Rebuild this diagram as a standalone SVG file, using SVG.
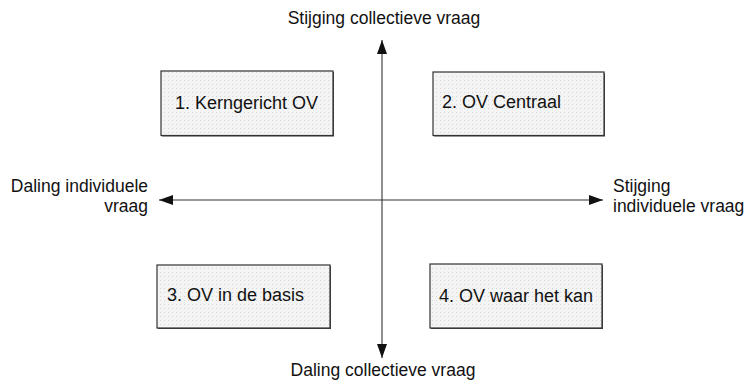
<svg xmlns="http://www.w3.org/2000/svg" width="754" height="383" viewBox="0 0 754 383">
<style>
.box{stroke:#333;stroke-width:1.2}
.shadow{fill:#444}
.bt{font-family:"Liberation Sans",Arial,sans-serif;font-size:18px;fill:#111}
.lb{font-family:"Liberation Sans",Arial,sans-serif;font-size:17.5px;fill:#111}
.ax{stroke:#333;stroke-width:1.1;fill:none}
</style>
<defs>
<pattern id="dots" width="4" height="4" patternUnits="userSpaceOnUse">
<rect width="4" height="4" fill="#f4f4f4"/>
<rect x="0" y="0" width="1" height="1" fill="#d6d6d6"/>
</pattern>
<marker id="ah" viewBox="0 0 14 10" refX="14" refY="5" markerWidth="14" markerHeight="10" markerUnits="userSpaceOnUse" orient="auto-start-reverse">
<path d="M0,0 L14,5 L0,10 Z" fill="#111"/>
</marker>
</defs>
<g id="connectors">
<line class="ax" x1="382" y1="358" x2="382" y2="40" marker-start="url(#ah)" marker-end="url(#ah)"/>
<line class="ax" x1="159" y1="200" x2="603" y2="200" marker-start="url(#ah)" marker-end="url(#ah)"/>
</g>
<g id="node1">
<rect class="shadow" x="162" y="72" width="172" height="64.5"/>
<rect class="box" x="161" y="71" width="172" height="64.5" style="fill:url(#dots)"/>
<text class="bt" x="175" y="109">1. Kerngericht OV</text>
</g>
<g id="node2">
<rect class="shadow" x="434" y="73" width="171" height="63.5"/>
<rect class="box" x="433" y="72" width="171" height="63.5" style="fill:url(#dots)"/>
<text class="bt" x="442" y="108">2. OV Centraal</text>
</g>
<g id="node3">
<rect class="shadow" x="158" y="266" width="173" height="63"/>
<rect class="box" x="157" y="265" width="173" height="63" style="fill:url(#dots)"/>
<text class="bt" x="167" y="301">3. OV in de basis</text>
</g>
<g id="node4">
<rect class="shadow" x="431" y="265" width="172" height="64"/>
<rect class="box" x="430" y="264" width="172" height="64" style="fill:url(#dots)"/>
<text class="bt" x="439" y="302">4. OV waar het kan</text>
</g>
<g id="labels">
<text class="lb" x="384" y="24" text-anchor="middle">Stijging collectieve vraag</text>
<text class="lb" x="383" y="376" text-anchor="middle">Daling collectieve vraag</text>
<text class="lb" x="148" y="192" text-anchor="end">Daling individuele</text>
<text class="lb" x="148" y="212" text-anchor="end">vraag</text>
<text class="lb" x="613" y="192">Stijging</text>
<text class="lb" x="613" y="212">individuele vraag</text>
</g>
</svg>
